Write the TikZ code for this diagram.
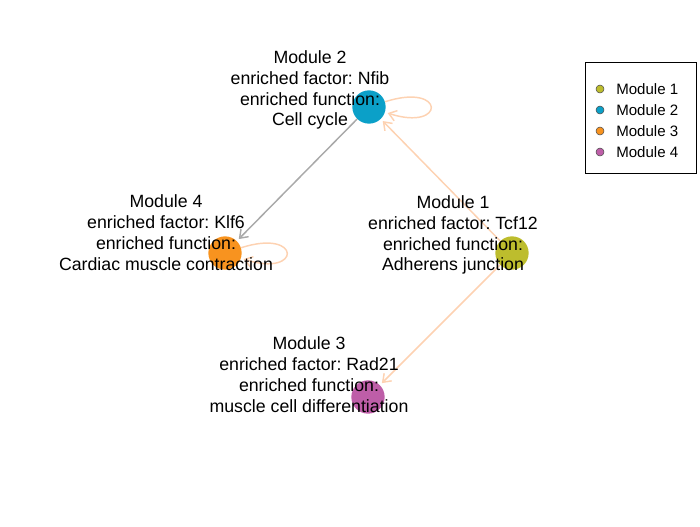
\documentclass[tikz,border=0pt]{standalone}
\usepackage{fontspec}
\setmainfont{Liberation Sans}
\usetikzlibrary{arrows.meta}
\frenchspacing
\definecolor{modone}{HTML}{BDBD2D}
\definecolor{modtwo}{HTML}{0BA0C8}
\definecolor{modthree}{HTML}{F8931F}
\definecolor{modfour}{HTML}{BE5EA8}
\definecolor{peach}{HTML}{FDD2B2}
\definecolor{edgegray}{HTML}{A9A9A9}
\begin{document}
\begin{tikzpicture}[x=0.75pt,y=-0.75pt,>={Straight Barb[length=5.5pt,width=8pt]},
  mod/.style={circle,minimum size=25pt,inner sep=0pt},
  link/.style={->,line width=1.1pt,shorten >=2pt},
  lbl/.style={align=center,font=\fontsize{13.3}{15.7}\selectfont},
  legdot/.style={circle,draw=gray!60!black,line width=0.4pt,minimum size=6pt,inner sep=0pt},
  legtxt/.style={anchor=west,inner sep=0pt,font=\fontsize{11.3}{13}\selectfont}]
\useasboundingbox (0,0) rectangle (700,526);
% modules
\node[mod,fill=modtwo] (m2) at (369,107) {};
\node[mod,fill=modthree] (m4) at (225,253) {};
\node[mod,fill=modone] (m1) at (512,253) {};
\node[mod,fill=modfour] (m3) at (368,397) {};
% links
\draw[link,peach] (m1) -- (m2);
\draw[link,peach] (m1) -- (m3);
\draw[link,edgegray] (m2) -- (m4);
\draw[link,peach] (m2) to[out=18,in=-18,distance=48pt] (m2);
\draw[link,peach] (m4) to[out=18,in=-18,distance=48pt] (m4);
% labels
\node[lbl] (l2) at (310,90) {Module 2\\enriched factor: Nfib\\enriched function:\\Cell cycle};
\node[lbl] (l4) at (166,233) {Module 4\\enriched factor: Klf6\\enriched function:\\Cardiac muscle contraction};
\node[lbl] (l1) at (453,235) {Module 1\\enriched factor: Tcf12\\enriched function:\\Adherens junction};
\node[lbl] (l3) at (309,375) {Module 3\\enriched factor: Rad21\\enriched function:\\muscle cell differentiation};
% legend
\draw[line width=0.75pt] (585,62) rectangle (696,173);
\foreach \i/\c/\y in {1/modone/89,2/modtwo/110,3/modthree/131,4/modfour/152}{
  \node[legdot,fill=\c] (k\i) at (600,\y) {};
  \node[legtxt] (t\i) at (616,\y) {Module \i};
}
\end{tikzpicture}
\end{document}
